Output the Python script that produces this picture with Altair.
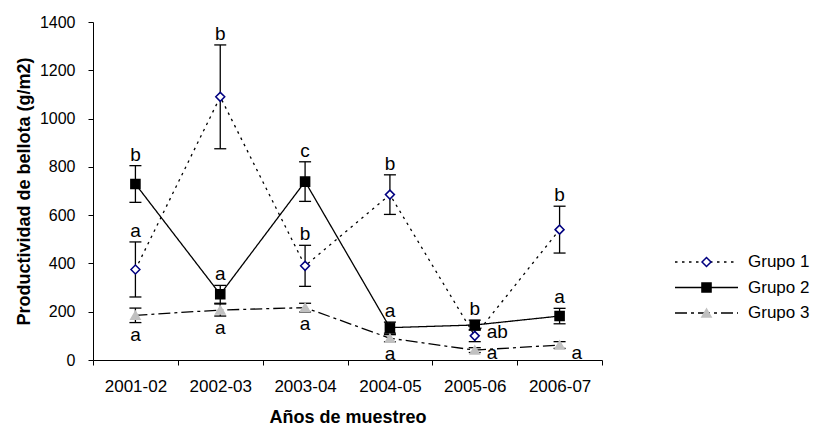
import altair as alt
import pandas as pd

years = ["2001-02", "2002-03", "2003-04", "2004-05", "2005-06", "2006-07"]
groups = ["Grupo 1", "Grupo 2", "Grupo 3"]

# Mean acorn production (g/m2) and its standard error, per sampling year
grupo1 = [375, 1090, 390, 685, 100, 540]
grupo1_se = [114, 215, 85, 82, 24, 97]
grupo2 = [729, 272, 739, 134, 145, 182]
grupo2_se = [76, 37, 82, 23, 20, 32]
grupo3 = [185, 207, 217, 90, 41, 62]
grupo3_se = [30, 25, 18, 15, 10, 14]

# Significance letters: (year, group, letter, where it sits)
letters = [
    ("2001-02", "Grupo 2", "b", "above"),
    ("2001-02", "Grupo 1", "a", "above"),
    ("2001-02", "Grupo 3", "a", "below"),
    ("2002-03", "Grupo 1", "b", "above"),
    ("2002-03", "Grupo 2", "a", "above"),
    ("2002-03", "Grupo 3", "a", "below"),
    ("2003-04", "Grupo 2", "c", "above"),
    ("2003-04", "Grupo 1", "b", "above"),
    ("2003-04", "Grupo 3", "a", "below"),
    ("2004-05", "Grupo 1", "b", "above"),
    ("2004-05", "Grupo 2", "a", "above"),
    ("2004-05", "Grupo 3", "a", "below"),
    ("2005-06", "Grupo 2", "b", "above"),
    ("2005-06", "Grupo 1", "ab", "right"),
    ("2005-06", "Grupo 3", "a", "right-axis"),
    ("2006-07", "Grupo 1", "b", "above"),
    ("2006-07", "Grupo 2", "a", "above"),
    ("2006-07", "Grupo 3", "a", "right-axis"),
]

series = {"Grupo 1": (grupo1, grupo1_se),
          "Grupo 2": (grupo2, grupo2_se),
          "Grupo 3": (grupo3, grupo3_se)}

rows = []
for g, (vals, ses) in series.items():
    for yr, v, s in zip(years, vals, ses):
        rows.append({"year": yr, "group": g, "value": v, "lo": v - s, "hi": v + s})
df = pd.DataFrame(rows)

lab = pd.DataFrame(letters, columns=["year", "group", "letter", "side"])
lab = lab.merge(df, on=["year", "group"])
lab["zero"] = 0

FONT = "Liberation Sans"
PLOT_W, PLOT_H = 509, 338

dash_scale = alt.Scale(domain=groups, range=[[2.5, 4.5], [1, 0], [12, 4, 3, 4]])
shape_scale = alt.Scale(domain=groups, range=["diamond", "square", "triangle-up"])
fill_scale = alt.Scale(domain=groups, range=["white", "black", "#C0C0C0"])
stroke_scale = alt.Scale(domain=groups, range=["#000080", "black", "#C0C0C0"])
size_scale = alt.Scale(domain=groups, range=[80, 85, 110])

x_enc = alt.X(
    "year:N", sort=years,
    scale=alt.Scale(type="band", domain=years, paddingInner=0, paddingOuter=0),
    axis=alt.Axis(title="Años de muestreo", labelAngle=0, tickBand="extent",
                  tickSize=5, labelFontSize=17, labelPadding=13, labelColor="black",
                  titleFontSize=18, titleFontWeight="bold", titlePadding=14,
                  titleColor="black", domainColor="black", tickColor="black",
                  labelFont=FONT, titleFont=FONT),
)
y_scale = alt.Scale(domain=[0, 1400], nice=False)
y_axis = alt.Axis(title="Productividad de bellota  (g/m2)", values=list(range(0, 1401, 200)),
                  format="d", tickSize=5, labelFontSize=16, labelPadding=13,
                  labelColor="black", titleFontSize=18, titleFontWeight="bold",
                  titlePadding=6, titleColor="black", domainColor="black",
                  tickColor="black", grid=False, labelFont=FONT, titleFont=FONT)

base = alt.Chart(df).encode(x=x_enc)

lines = base.mark_line(color="black", strokeWidth=1.3).encode(
    y=alt.Y("value:Q", scale=y_scale, axis=y_axis),
    strokeDash=alt.StrokeDash("group:N", scale=dash_scale, legend=None),
    detail="group:N",
)
bars = base.mark_rule(color="black", strokeWidth=1.3).encode(
    y=alt.Y("lo:Q", scale=y_scale), y2="hi:Q")
cap_hi = base.mark_tick(color="black", size=12, thickness=1.3, opacity=1).encode(
    y=alt.Y("hi:Q", scale=y_scale))
cap_lo = base.mark_tick(color="black", size=12, thickness=1.3, opacity=1).encode(
    y=alt.Y("lo:Q", scale=y_scale))
points = base.mark_point(opacity=1, strokeWidth=1.5).encode(
    y=alt.Y("value:Q", scale=y_scale),
    shape=alt.Shape("group:N", scale=shape_scale, legend=None),
    fill=alt.Fill("group:N", scale=fill_scale, legend=None),
    stroke=alt.Stroke("group:N", scale=stroke_scale, legend=None),
    size=alt.Size("group:N", scale=size_scale, legend=None),
)

lab_base = alt.Chart(lab).encode(x=x_enc, text="letter:N")
txt_style = dict(fontSize=19, font=FONT, color="black", baseline="alphabetic")
txt_above = lab_base.transform_filter("datum.side == 'above'").mark_text(
    dy=-5, **txt_style).encode(y=alt.Y("hi:Q", scale=y_scale))
txt_below = lab_base.transform_filter("datum.side == 'below'").mark_text(
    dy=18, **txt_style).encode(y=alt.Y("lo:Q", scale=y_scale))
txt_right = lab_base.transform_filter("datum.side == 'right'").mark_text(
    align="left", dx=12, dy=2, **txt_style).encode(y=alt.Y("value:Q", scale=y_scale))
txt_axis = lab_base.transform_filter("datum.side == 'right-axis'").mark_text(
    align="left", dx=12, dy=-1, **txt_style).encode(y=alt.Y("zero:Q", scale=y_scale))

main = alt.layer(lines, bars, cap_hi, cap_lo, points,
                 txt_above, txt_below, txt_right, txt_axis)

# Legend drawn as its own small layer with private position scales
leg = pd.DataFrame({"group": groups, "start": 0.0, "mid": 0.5, "end": 1.0})
leg_x = alt.Scale(domain=[0, 1], range=[PLOT_W + 73, PLOT_W + 136])
leg_y = alt.Scale(type="point", domain=groups, range=[240, 291], padding=0)
leg_base = alt.Chart(leg).encode(
    y=alt.Y("group:N", scale=leg_y, axis=None))
leg_line = leg_base.mark_rule(color="black", strokeWidth=1.3).encode(
    x=alt.X("start:Q", scale=leg_x, axis=None), x2="end:Q",
    strokeDash=alt.StrokeDash("group:N", scale=dash_scale, legend=None))
leg_pt = leg_base.mark_point(opacity=1, strokeWidth=1.5).encode(
    x=alt.X("mid:Q", scale=leg_x, axis=None),
    shape=alt.Shape("group:N", scale=shape_scale, legend=None),
    fill=alt.Fill("group:N", scale=fill_scale, legend=None),
    stroke=alt.Stroke("group:N", scale=stroke_scale, legend=None),
    size=alt.Size("group:N", scale=size_scale, legend=None),
)
leg_txt = leg_base.mark_text(fontSize=17, font=FONT, color="black", align="left",
                             baseline="middle", dx=10).encode(
    x=alt.X("end:Q", scale=leg_x, axis=None), text="group:N")
legend = alt.layer(leg_line, leg_pt, leg_txt)

chart = alt.layer(main, legend).resolve_scale(x="independent", y="independent").properties(
    width=PLOT_W, height=PLOT_H,
    padding={"left": 93, "top": 22, "right": 814 - 93 - PLOT_W, "bottom": 427 - 22 - PLOT_H},
    autosize=alt.AutoSizeParams(type="none"),
    background="white",
).configure_view(stroke=None)

chart.save("out.html", embed_options={"renderer": "svg", "actions": False})
